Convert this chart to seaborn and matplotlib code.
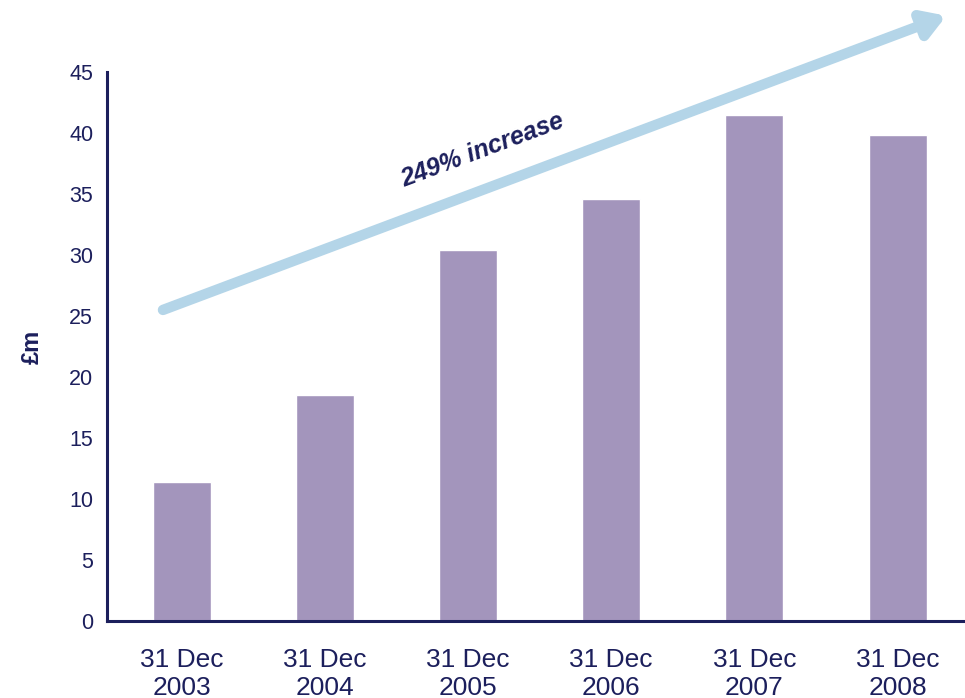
import matplotlib
matplotlib.use("Agg")
import matplotlib.pyplot as plt
import seaborn as sns
import pandas as pd

categories = ["31 Dec\n2003", "31 Dec\n2004", "31 Dec\n2005", "31 Dec\n2006", "31 Dec\n2007", "31 Dec\n2008"]
values = [11.4, 18.5, 30.4, 34.6, 41.5, 39.8]
y_ticks = [0, 5, 10, 15, 20, 25, 30, 35, 40, 45]
annotation_text = "249% increase"
y_label = "£m"

NAVY = "#1c1f5c"
BAR = "#a395bc"
ARROW = "#b4d5e8"

sns.set_style("white")
plt.rcParams["font.family"] = ["Liberation Sans", "DejaVu Sans"]

df = pd.DataFrame({"date": categories, "value": values})

fig = plt.figure(figsize=(9.65, 6.98), dpi=100)
ax = fig.add_axes([0.111, 0.110, 0.889, 0.787])

sns.barplot(data=df, x="date", y="value", color=BAR, width=0.405, saturation=1, ax=ax)

ax.set_xlim(-0.52, 5.47)
ax.set_ylim(0, 45)
ax.set_yticks(y_ticks)
ax.set_yticklabels([str(t) for t in y_ticks], fontsize=15.5, color=NAVY)
ax.set_xticks(range(len(categories)))
ax.set_xticklabels(categories, fontsize=19, color=NAVY, linespacing=1.22)
ax.tick_params(axis="x", length=0, pad=19)
ax.tick_params(axis="y", length=5, width=1.2, color=NAVY, direction="out", pad=5)

ax.set_xlabel("")
ax.set_ylabel(y_label, fontsize=17, fontweight="bold", color=NAVY)
ax.yaxis.set_label_coords(-0.074, 0.5)

for s in ["top", "right"]:
    ax.spines[s].set_visible(False)
for s in ["left", "bottom"]:
    ax.spines[s].set_color(NAVY)
    ax.spines[s].set_linewidth(2.2)

ax.annotate("", xy=(5.34, 49.6), xytext=(-0.13, 25.5),
            arrowprops=dict(arrowstyle="-|>,head_length=1.3,head_width=0.8",
                            color=ARROW, lw=7.5, shrinkA=0, shrinkB=0,
                            capstyle="round", joinstyle="round"),
            annotation_clip=False)

ax.text(2.1, 38.6, annotation_text, rotation=20.5, fontsize=18, fontweight="bold",
        fontstyle="italic", color=NAVY, ha="center", va="center",
        rotation_mode="anchor")

fig.savefig("out.png", dpi=100)
